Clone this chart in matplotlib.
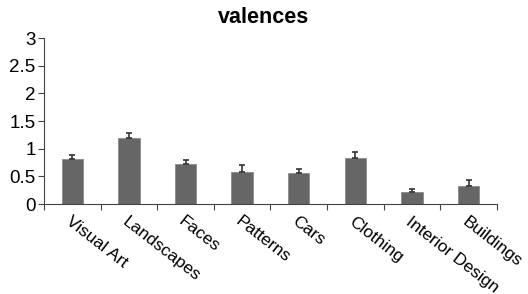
import matplotlib
matplotlib.use("Agg")
import matplotlib.pyplot as plt
import numpy as np

categories = ["Visual Art", "Landscapes", "Faces", "Patterns", "Cars", "Clothing", "Interior Design", "Buildings"]
values = [0.81, 1.20, 0.73, 0.58, 0.56, 0.84, 0.21, 0.33]
errors = [0.08, 0.08, 0.07, 0.12, 0.08, 0.10, 0.07, 0.10]
yticks = [0, 0.5, 1, 1.5, 2, 2.5, 3]
ytick_labels = ["0", "0.5", "1", "1.5", "2", "2.5", "3"]

plt.rcParams['font.family'] = ['Liberation Sans', 'DejaVu Sans']

fig = plt.figure(figsize=(5.28, 2.94), dpi=100)
ax = fig.add_axes([0.0833, 0.306, 0.8577, 0.564])

x = np.arange(len(categories))
ax.bar(x, values, width=0.38, color="#666666", edgecolor="#8a8a8a", linewidth=0.6,
       yerr=[np.zeros(len(values)), errors], capsize=2.5,
       error_kw=dict(ecolor="#333333", elinewidth=1.2, capthick=1.2))

ax.set_xlim(-0.5, len(categories) - 0.5)
ax.set_ylim(0, 3)
ax.set_yticks(yticks)
ax.set_yticklabels(ytick_labels, fontsize=13.5)
ax.tick_params(axis='y', length=4, width=0.8, color="#444444", pad=2)

ax.set_xticks(x)
ax.set_xticklabels(categories, rotation=-38, ha='left', va='top',
                   rotation_mode='anchor', fontsize=12.5)
ax.tick_params(axis='x', which='major', length=0, pad=7)
ax.set_xticks(np.arange(-0.5, len(categories)), minor=True)
ax.tick_params(axis='x', which='minor', length=4, width=0.8, color="#444444")

for s in ["top", "right"]:
    ax.spines[s].set_visible(False)
for s in ["left", "bottom"]:
    ax.spines[s].set_color("#444444")
    ax.spines[s].set_linewidth(0.8)

fig.text(0.5, 0.942, "valences", ha='center', va='center', fontsize=15.5, fontweight='bold')

fig.savefig("out.png", dpi=100)
